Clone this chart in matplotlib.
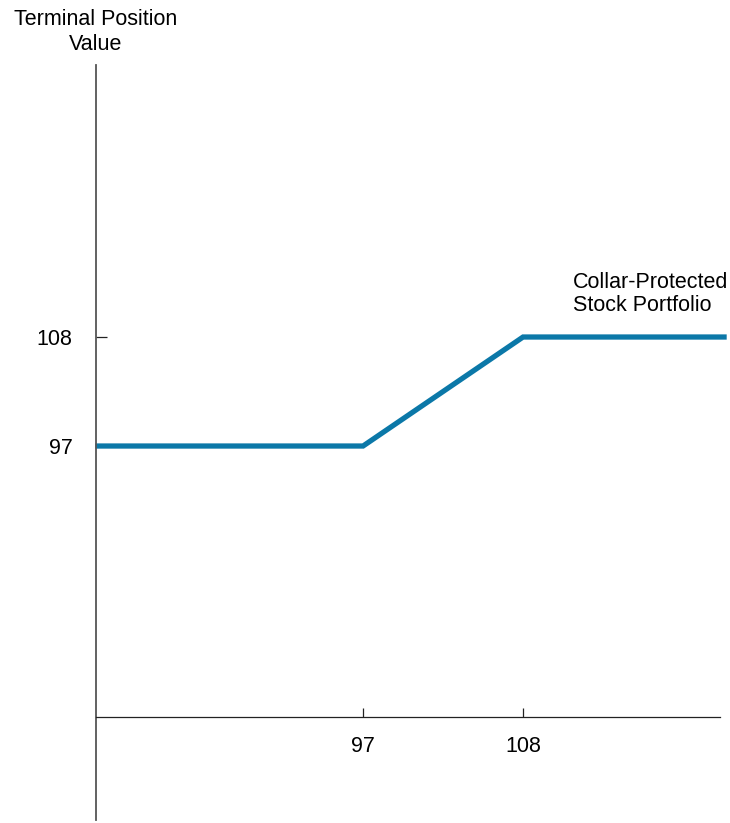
import matplotlib.pyplot as plt

# payoff of a collar-protected stock portfolio
stock_price = [78.6, 97, 108, 122]
position_value = [97, 97, 108, 108]
x_ticks = [97, 108]
y_ticks = [97, 108]

W, H = 730, 823
fig = plt.figure(figsize=(W / 100, H / 100), dpi=100)
plt.rcParams["font.family"] = ["Liberation Sans", "DejaVu Sans"]

# axes box in pixel terms: left 96, right 720, top 65, bottom 820
ax = fig.add_axes([96 / W, 1 - 820 / H, (720 - 96) / W, (820 - 65) / H])
ax.set_xlim(78.64, 121.54)
ax.set_ylim(59.26, 135.45)

ax.plot(stock_price, position_value, color="#0b78a8", lw=3.8,
        solid_capstyle="butt", solid_joinstyle="miter", clip_on=False)

for s in ["top", "right"]:
    ax.spines[s].set_visible(False)
ax.spines["left"].set_color("#555555")
ax.spines["left"].set_linewidth(1.3)
ax.spines["bottom"].set_position(("data", 69.65))
ax.spines["bottom"].set_color("#222222")
ax.spines["bottom"].set_linewidth(0.9)

ax.set_xticks(x_ticks)
ax.set_yticks(y_ticks)
ax.set_xticklabels([str(v) for v in x_ticks])
ax.set_yticklabels([str(v) for v in y_ticks])
ax.tick_params(axis="y", direction="in", length=8, width=0.9, pad=17,
               labelsize=15.5, color="#222222")
ax.tick_params(axis="x", direction="in", length=6.5, width=0.9, pad=14,
               labelsize=15.5, color="#222222")

fig.text(96 / W, 1 - 32 / H, "Terminal Position\nValue", ha="center",
         va="center", fontsize=15.5, linespacing=1.22)
ax.text(573 / W, 1 - 294 / H, "Collar-Protected\nStock Portfolio",
        transform=fig.transFigure, ha="left", va="center", fontsize=15.5,
        linespacing=1.15)

fig.savefig("out.png", dpi=100)
